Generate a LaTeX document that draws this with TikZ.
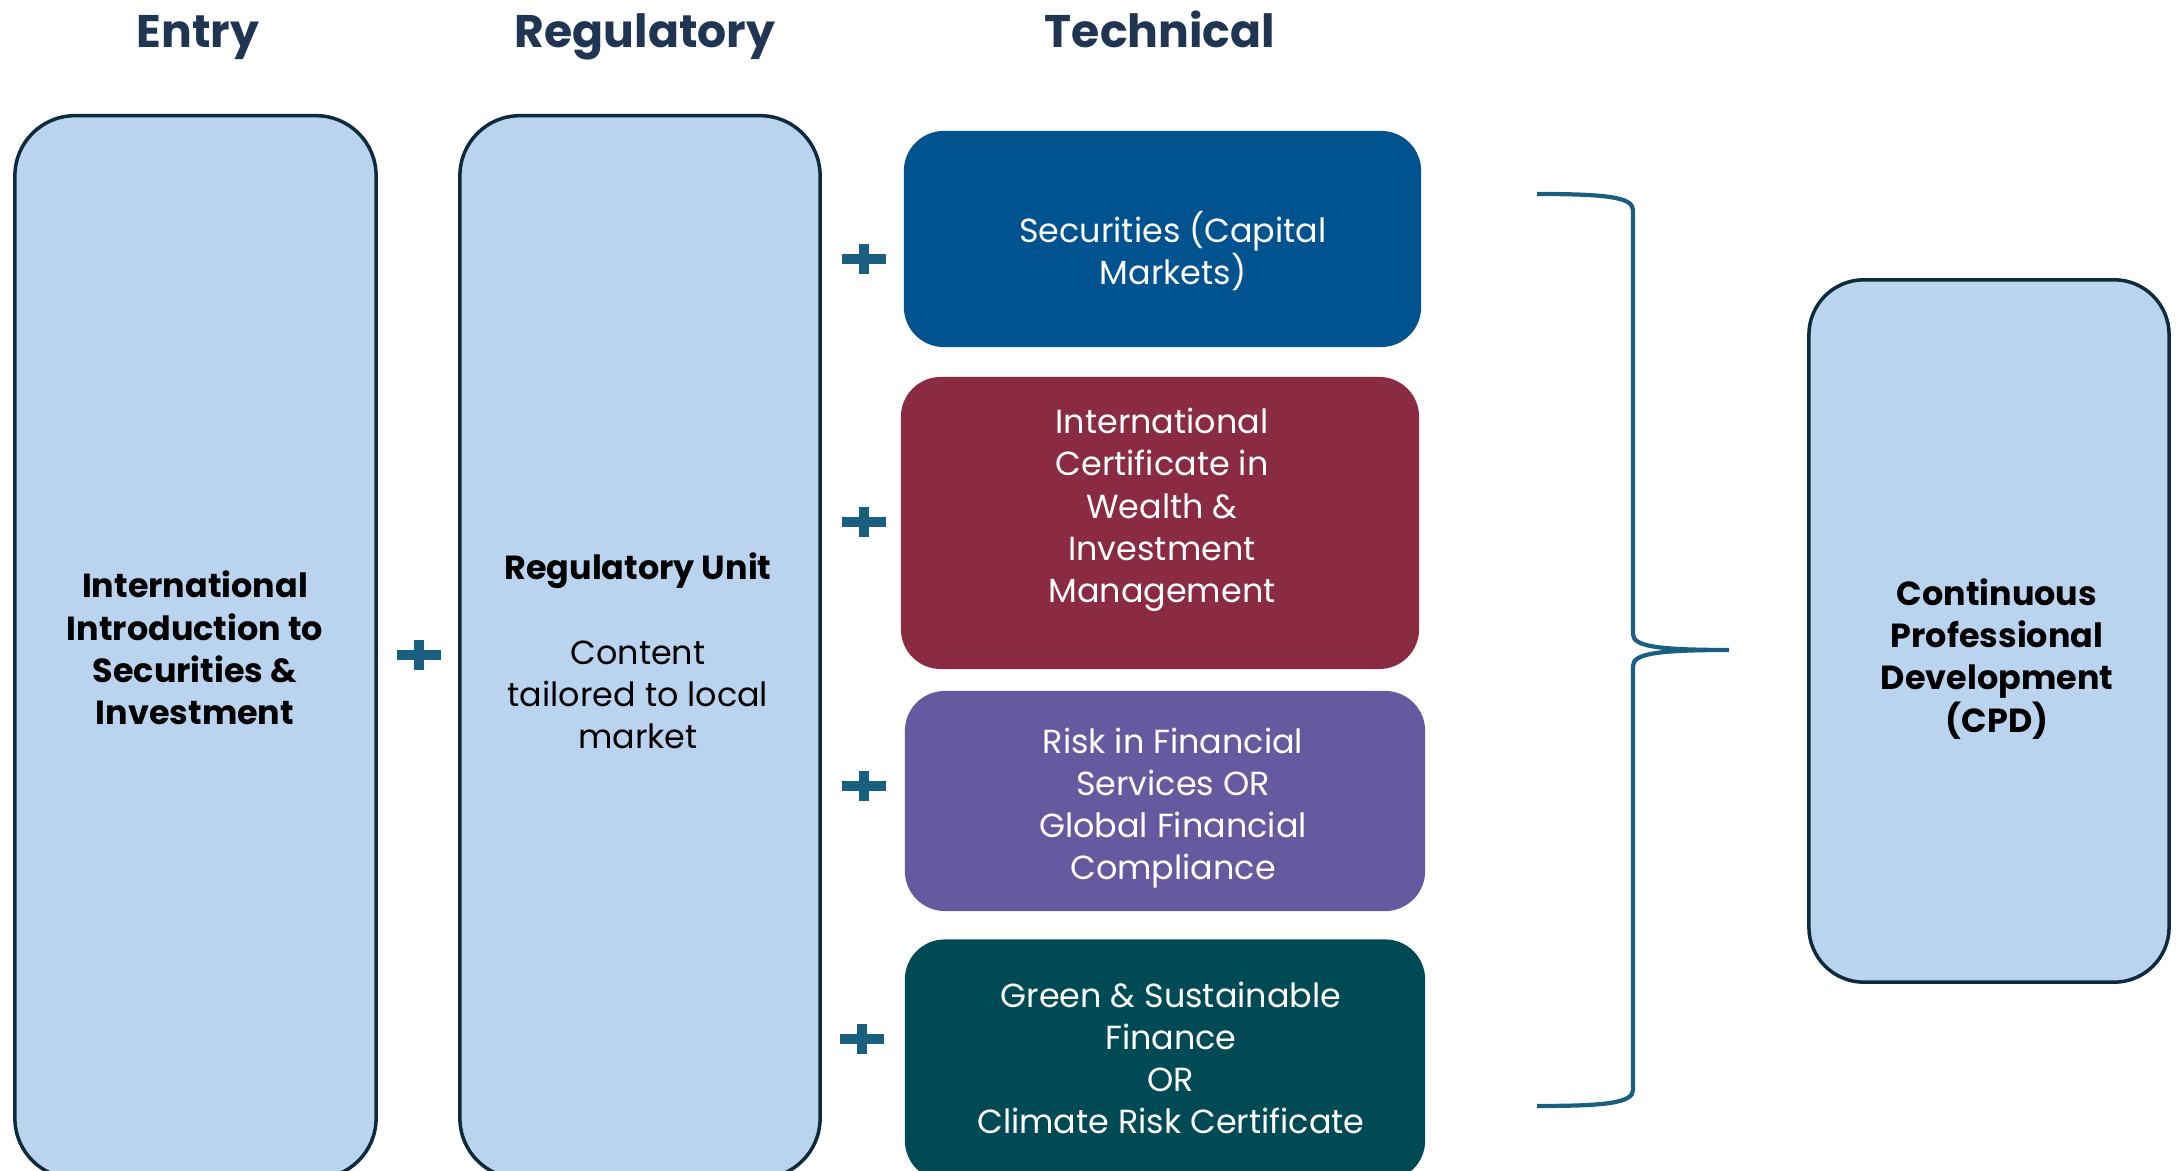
\documentclass[tikz,border=0pt]{standalone}
\usepackage{fontspec}
\setmainfont{Poppins}
\usetikzlibrary{calc}
\definecolor{boxfill}{RGB}{186,212,239}
\definecolor{boxline}{RGB}{14,43,61}
\definecolor{headclr}{RGB}{31,53,82}
\definecolor{secclr}{RGB}{0,83,143}
\definecolor{wealthclr}{RGB}{139,43,67}
\definecolor{riskclr}{RGB}{103,89,160}
\definecolor{greenclr}{RGB}{0,74,86}
\definecolor{plusclr}{RGB}{27,95,128}
\tikzstyle{heading} = [anchor=base,text=headclr,font=\bfseries\fontsize{13}{15}\selectfont]
\tikzstyle{lightbox} = [draw=boxline,fill=boxfill,line width=1pt,rounded corners=0.6cm]
\tikzstyle{techbox} = [rounded corners=0.4cm]
\tikzstyle{txt} = [align=center,inner sep=0pt,font=\fontsize{9.5}{12}\selectfont]
\tikzstyle{bracket} = [plusclr,line width=1.2pt]

\begin{document}
\begin{tikzpicture}[x=0.01cm,y=-0.01cm]
\useasboundingbox (0,0) rectangle (2184,1171);
\clip (0,0) rectangle (2184,1171);

\node[heading] (hentry) at (198,48) {Entry};
\node[heading] (hreg) at (645,48) {Regulatory};
\node[heading] (htech) at (1160,48) {Technical};

\node[lightbox,minimum width=3.61cm,minimum height=10.62cm] (entry) at (195.5,647) {};
\node[lightbox,minimum width=3.60cm,minimum height=10.62cm] (reg) at (640,647) {};
\node[lightbox,rounded corners=0.55cm,minimum width=3.60cm,minimum height=7.02cm] (cpd) at (1989,631) {};

\node[techbox,fill=secclr,minimum width=5.17cm,minimum height=2.16cm] (sec) at (1162.5,239) {};
\node[techbox,fill=wealthclr,minimum width=5.18cm,minimum height=2.92cm] (wealth) at (1160,523) {};
\node[techbox,fill=riskclr,minimum width=5.20cm,minimum height=2.20cm] (risk) at (1165,801) {};
\node[techbox,fill=greenclr,minimum width=5.20cm,minimum height=2.41cm] (green) at (1165,1060) {};

\node[txt,font=\bfseries\fontsize{9.5}{12}\selectfont] (entrytxt) at (195,648) {International\\Introduction to\\Securities \&\\Investment};
\node[txt] (regtxt) at (638,651) {\textbf{Regulatory Unit}\\[12pt]Content\\tailored to local\\market};
\node[txt,text=white] (sectxt) at (1173,251) {Securities (Capital\\Markets)};
\node[txt,text=white] (wealthtxt) at (1162,510) {International\\Certificate in\\Wealth \&\\Investment\\Management};
\node[txt,text=white] (risktxt) at (1173,808) {Risk in Financial\\Services OR\\Global Financial\\Compliance};
\node[txt,text=white] (greentxt) at (1171,1058) {Green \& Sustainable\\Finance\\OR\\Climate Risk Certificate};
\node[txt,font=\bfseries\fontsize{9.5}{12}\selectfont] (cpdtxt) at (1997,659) {Continuous\\Professional\\Development\\(CPD)};

\foreach \n/\x/\y in {p0/419/655,p1/864/259,p2/864/522,p3/864/786,p4/862/1039} {
  \coordinate (\n) at (\x,\y);
  \fill[plusclr] ($(\n)+(-22,-5)$) rectangle ($(\n)+(22,5)$);
  \fill[plusclr] ($(\n)+(-5,-15)$) rectangle ($(\n)+(5,15)$);
}

\coordinate (btop) at (1537,194);
\coordinate (bbot) at (1537,1106);
\coordinate (btip) at (1729,650);
\draw[bracket] (btop) .. controls (1605,194) and (1633,197) .. (1633,210) -- (1633,634)
  .. controls (1633,646) and (1655,650) .. (btip)
  .. controls (1655,650) and (1633,654) .. (1633,666) -- (1633,1090)
  .. controls (1633,1103) and (1605,1106) .. (bbot);
\end{tikzpicture}
\end{document}
